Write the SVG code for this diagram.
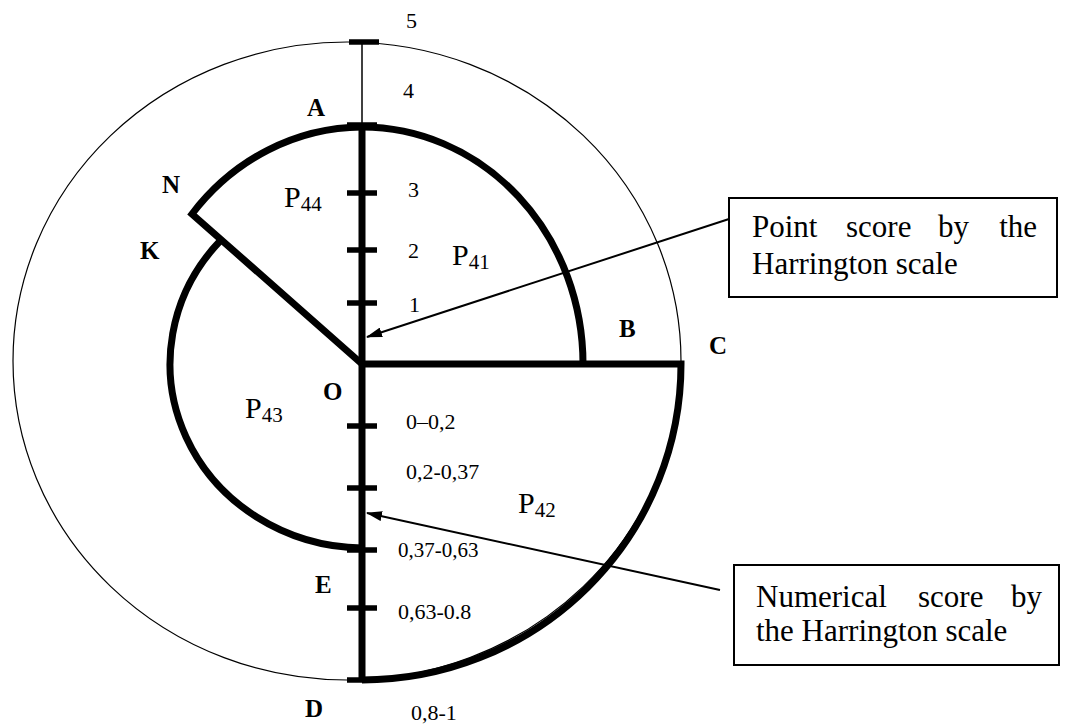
<svg xmlns="http://www.w3.org/2000/svg" width="1065" height="724" viewBox="0 0 1065 724">
<style>
text{font-family:'Liberation Serif','Times New Roman','DejaVu Serif',serif;fill:#000}
.lbl{font-weight:bold;font-size:25px}
.num{font-size:22px}
.p{font-size:30px}
.sub{font-size:21px}
.box{font-size:31px}
.thick{fill:none;stroke:#000;stroke-width:7}
.thin{fill:none;stroke:#000;stroke-width:1.2}
.tick{stroke:#000;stroke-width:5.5}
.conn{stroke:#000;stroke-width:2;fill:none}
</style>
<defs>
<marker id="ah" viewBox="0 0 16 10" refX="15" refY="5" markerWidth="16" markerHeight="10" markerUnits="userSpaceOnUse" orient="auto">
<path d="M0,0 L16,5 L0,10 Z" fill="#000"/>
</marker>
</defs>
<rect width="1065" height="724" fill="#fff"/>
<g font-family="Liberation Serif, Times New Roman, DejaVu Serif, serif">
<g id="outer-circle">
<ellipse class="thin" cx="347" cy="361" rx="334" ry="319"/>
<line x1="362" y1="42" x2="362" y2="125" stroke="#000" stroke-width="1.5"/>
</g>
<g id="sector-P42">
<path class="thick" d="M362,364 L681,364 A319,316 0 0 1 362,680"/>
<text class="p" x="518" y="513">P<tspan class="sub" dy="4">42</tspan></text>
</g>
<g id="sector-P41">
<path class="thick" d="M362,127 A221,237 0 0 1 583,364"/>
<text class="p" x="452" y="265">P<tspan class="sub" dy="4">41</tspan></text>
</g>
<g id="sector-P44">
<path class="thick" d="M362,127 A221,237 0 0 0 192,214 L362,364"/>
<text class="p" x="284" y="207">P<tspan class="sub" dy="4">44</tspan></text>
</g>
<g id="sector-P43">
<path class="thick" d="M221,240 A195,184 0 0 0 362,548"/>
<text class="p" x="245" y="418">P<tspan class="sub" dy="4">43</tspan></text>
</g>
<g id="axis">
<line class="thick" x1="362" y1="125" x2="362" y2="680"/>
<line class="tick" x1="349" y1="42" x2="379" y2="42"/>
<line class="tick" x1="347" y1="125" x2="377" y2="125"/>
<line class="tick" x1="347" y1="193" x2="377" y2="193"/>
<line class="tick" x1="347" y1="250" x2="377" y2="250"/>
<line class="tick" x1="347" y1="303" x2="377" y2="303"/>
<line class="tick" x1="347" y1="426" x2="377" y2="426"/>
<line class="tick" x1="347" y1="488" x2="377" y2="488"/>
<line class="tick" x1="347" y1="550" x2="377" y2="550"/>
<line class="tick" x1="347" y1="608" x2="377" y2="608"/>
<line class="tick" x1="347" y1="680" x2="377" y2="680"/>
</g>
<g id="scale-labels">
<text class="num" x="406" y="28">5</text>
<text class="num" x="403" y="98">4</text>
<text class="num" x="408" y="197">3</text>
<text class="num" x="408" y="258">2</text>
<text class="num" x="409" y="312">1</text>
<text class="num" x="406" y="429">0–0,2</text>
<text class="num" x="406" y="479">0,2-0,37</text>
<text class="num" x="398" y="557" style="font-size:21px">0,37-0,63</text>
<text class="num" x="398" y="619">0,63-0.8</text>
<text class="num" x="411" y="720">0,8-1</text>
</g>
<g id="point-labels">
<text class="lbl" x="307" y="116">A</text>
<text class="lbl" x="162" y="193">N</text>
<text class="lbl" x="140" y="259">K</text>
<text class="lbl" x="323" y="400">O</text>
<text class="lbl" x="315" y="593">E</text>
<text class="lbl" x="305" y="717">D</text>
<text class="lbl" x="619" y="337">B</text>
<text class="lbl" x="709" y="354">C</text>
</g>
<g id="box-point">
<rect x="729" y="198" width="328" height="99" fill="#fff" stroke="#000" stroke-width="2"/>
<text class="box" x="752" y="237">Point</text>
<text class="box" x="846" y="237">score</text>
<text class="box" x="938" y="237">by</text>
<text class="box" x="1037" y="237" text-anchor="end">the</text>
<text class="box" x="752" y="274">Harrington scale</text>
</g>
<g id="box-numerical">
<rect x="734" y="565" width="325" height="100" fill="#fff" stroke="#000" stroke-width="2"/>
<text class="box" x="756" y="607">Numerical</text>
<text class="box" x="918" y="607">score</text>
<text class="box" x="1042" y="607" text-anchor="end">by</text>
<text class="box" x="756" y="641">the Harrington scale</text>
</g>
<g id="connectors">
<line class="conn" x1="729" y1="219" x2="367" y2="337" marker-end="url(#ah)"/>
<line class="conn" x1="720" y1="590" x2="367" y2="513" marker-end="url(#ah)"/>
</g>
</g>
</svg>
